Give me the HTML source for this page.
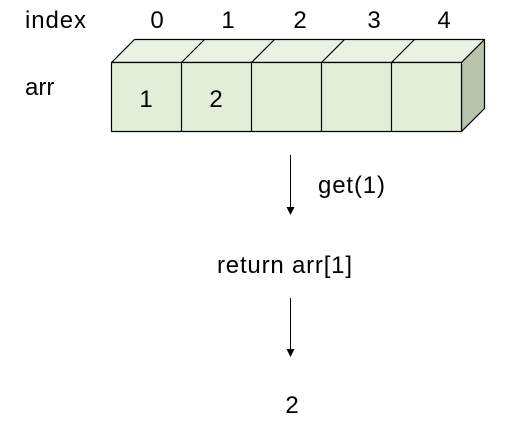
<!DOCTYPE html>
<html><head><style>html,body{margin:0;padding:0;background:#fff}</style></head><body>
<svg width="515" height="439" xmlns="http://www.w3.org/2000/svg" style="display:block;font-family:'Liberation Sans','Noto Sans CJK KR',sans-serif">
<g font-size="24" fill="#000">
<text x="25" y="28" textLength="61">index</text>
<text x="157" y="28" text-anchor="middle">0</text>
<text x="228" y="28" text-anchor="middle">1</text>
<text x="300" y="28" text-anchor="middle">2</text>
<text x="374" y="28" text-anchor="middle">3</text>
<text x="444" y="28" text-anchor="middle">4</text>
<text x="25" y="95">arr</text>
</g>
<g stroke="#000" stroke-width="1.2" stroke-linejoin="round">
<polygon points="111.5,62.5 134.5,39.5 484.5,39.5 461.5,62.5" fill="#ebf2e2"/>
<polygon points="461.5,62.5 484.5,39.5 484.5,108.5 461.5,131.5" fill="#b8c4ad"/>
<rect x="111.5" y="62.5" width="350" height="69" fill="#e3eed9"/>
<line x1="181.5" y1="62.5" x2="181.5" y2="131.5"/>
<line x1="251.5" y1="62.5" x2="251.5" y2="131.5"/>
<line x1="321.5" y1="62.5" x2="321.5" y2="131.5"/>
<line x1="391.5" y1="62.5" x2="391.5" y2="131.5"/>
<line x1="181.5" y1="62.5" x2="204.5" y2="39.5"/>
<line x1="251.5" y1="62.5" x2="274.5" y2="39.5"/>
<line x1="321.5" y1="62.5" x2="344.5" y2="39.5"/>
<line x1="391.5" y1="62.5" x2="414.5" y2="39.5"/>
</g>
<g font-size="24" fill="#000">
<text x="146" y="107" text-anchor="middle">1</text>
<text x="216" y="107" text-anchor="middle">2</text>
<text x="318" y="193" textLength="67">get(1)</text>
<text x="217" y="273" textLength="135">return arr[1]</text>
<text x="292" y="413" text-anchor="middle">2</text>
</g>
<line x1="290.5" y1="155" x2="290.5" y2="208" stroke="#000" stroke-width="1"/>
<polygon points="286.5,207 294.5,207 290.5,215" fill="#000"/>
<line x1="290.5" y1="298" x2="290.5" y2="350" stroke="#000" stroke-width="1"/>
<polygon points="286.5,349 294.5,349 290.5,357" fill="#000"/>
</svg>
</body></html>
